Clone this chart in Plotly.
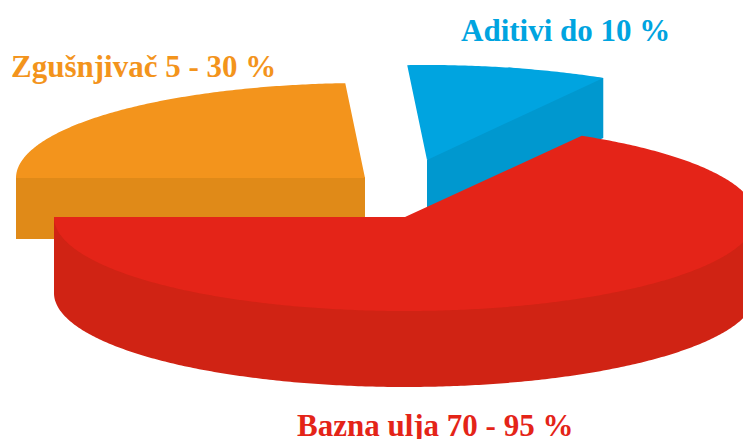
import numpy as np
import plotly.graph_objects as go

# Data (share of the pie, percent)
slice_names = ["Bazna ulja 70 - 95 %", "Zgušnjivač 5 - 30 %", "Aditivi do 10 %"]
slice_shares = [66.6, 24.1, 9.3]
top_colors = ["#E42418", "#F3941C", "#00A4E0"]
side_colors = ["#D02314", "#E08A18", "#0098CF"]

# Styling / projection of the pseudo-3D pie (pixels on a 743x439 canvas)
W, H = 743, 439
centers = [(405, 217), (365, 178), (427, 160)]
semi_axes = [(351, 94), (349, 95), (350, 95)]
depths = [76, 61, 60]
label_pos = [(435, 425), (143, 66), (565, 30)]

sweeps = np.array(slice_shares) / sum(slice_shares) * 360.0


def sector_arc(i, start_deg, end_deg, n):
    """Points of slice i's rim; angles are measured counter-clockwise on screen."""
    cx, cy = centers[i]
    a, b = semi_axes[i]
    t = np.radians(np.linspace(start_deg, end_deg, n))
    return cx + a * np.cos(t), cy - b * np.sin(t)


def poly(xs, ys, color):
    return go.Scatter(x=list(xs), y=list(ys), mode="none", fill="toself",
                      fillcolor=color, hoverinfo="skip", showlegend=False)


fig = go.Figure()

# Zgušnjivač: from the left point clockwise over the top
cx, cy = centers[1]
d = depths[1]
ax, ay = sector_arc(1, 180, 180 - sweeps[1], 160)
fig.add_trace(poly([ax[0], cx, cx, ax[0]], [cy - 1, cy - 1, cy + d, cy + d], side_colors[1]))
fig.add_trace(poly(np.r_[cx, ax], np.r_[cy, ay], top_colors[1]))

# Aditivi: the next slice clockwise
cx, cy = centers[2]
d = depths[2]
start = 180 - sweeps[1]
bx, by = sector_arc(2, start, start - sweeps[2], 61)
fig.add_trace(poly([cx, bx[30], bx[-1], bx[-1], cx],
                   [cy, by[30], by[-1], by[-1] + d, cy + d], side_colors[2]))
fig.add_trace(poly(np.r_[cx, bx], np.r_[cy, by], top_colors[2]))

# Bazna ulja: from the left point counter-clockwise through the front
cx, cy = centers[0]
d = depths[0]
rx, ry = sector_arc(0, 180, 180 + sweeps[0], 400)
front = ry >= cy
fx, fy = rx[front], ry[front]
fig.add_trace(poly(np.r_[fx[0], fx, fx[-1]], np.r_[cy, fy + d, cy], side_colors[0]))
fig.add_trace(poly(np.r_[cx, rx], np.r_[cy, ry], top_colors[0]))

for name, col, (lx, ly) in zip(slice_names, top_colors, label_pos):
    fig.add_annotation(x=lx, y=ly, xref="x", yref="y", text=f"<b>{name}</b>", showarrow=False,
                       font=dict(family="Liberation Serif", size=31, color=col))

fig.update_layout(
    width=W, height=H, margin=dict(l=0, r=0, t=0, b=0),
    paper_bgcolor="white", plot_bgcolor="white", showlegend=False,
    xaxis=dict(range=[0, W], visible=False, fixedrange=True),
    yaxis=dict(range=[H, 0], visible=False, fixedrange=True),
)
fig.write_html("out.html", config={"displayModeBar": False},
               post_script="document.body.style.margin='0';")
